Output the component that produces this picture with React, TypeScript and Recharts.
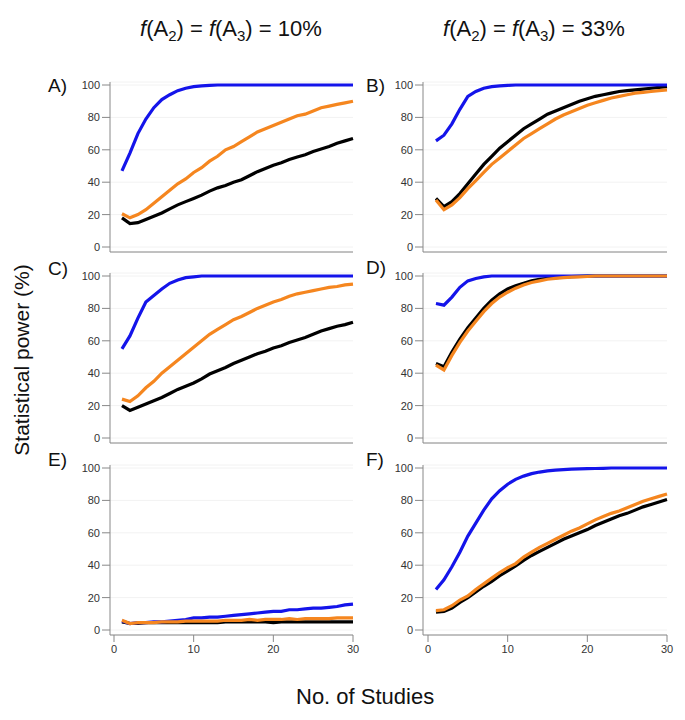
import { LineChart, Line, XAxis, YAxis, CartesianGrid } from 'recharts';

const studies = Array.from({ length: 30 }, (_, i) => i + 1);
const yTicks = [0, 20, 40, 60, 80, 100];
const xTicks = [0, 10, 20, 30];

// A) f = 10%
const aBlue = [47, 58, 70, 79, 86, 91, 94, 96.5, 98, 99, 99.5, 99.8, 100, 100, 100, 100, 100, 100, 100, 100, 100, 100, 100, 100, 100, 100, 100, 100, 100, 100];
const aOrange = [20.5, 18, 20, 23, 27, 31, 35, 39, 42, 46, 49, 53, 56, 60, 62, 65, 68, 71, 73, 75, 77, 79, 81, 82, 84, 86, 87, 88, 89, 90];
const aBlack = [18, 14.5, 15, 17, 19, 21, 23.5, 26, 28, 30, 32, 34.5, 36.5, 38, 40, 41.5, 44, 46.5, 48.5, 50.5, 52, 54, 55.5, 57, 59, 60.5, 62, 64, 65.5, 67];

// B) f = 33%
const bBlue = [65.5, 69, 76, 85, 93, 96, 98, 99, 99.5, 99.8, 100, 100, 100, 100, 100, 100, 100, 100, 100, 100, 100, 100, 100, 100, 100, 100, 100, 100, 100, 100];
const bOrange = [29, 23, 26, 30.5, 36, 41, 46, 51, 55, 59, 63, 67, 70, 73, 76, 79, 81.5, 83.5, 85.5, 87.5, 89, 90.5, 92, 93, 94, 95, 95.5, 96, 96.5, 97];
const bBlack = [30, 25, 28, 33, 39, 45, 51, 56, 61, 65, 69, 73, 76, 79, 82, 84, 86, 88, 90, 91.5, 93, 94, 95, 96, 96.5, 97, 97.5, 98, 98.5, 99];

// C) f = 10%
const cBlue = [55, 63, 74, 84, 88, 92, 95.5, 97.5, 99, 99.5, 100, 100, 100, 100, 100, 100, 100, 100, 100, 100, 100, 100, 100, 100, 100, 100, 100, 100, 100, 100];
const cOrange = [24, 22.5, 26, 31, 35, 40, 44, 48, 52, 56, 60, 64, 67, 70, 73, 75, 77.5, 80, 82, 84, 85.5, 87.5, 89, 90, 91, 92, 93, 93.5, 94.5, 95];
const cBlack = [20, 17, 19, 21, 23, 25, 27.5, 30, 32, 34, 36.5, 39.5, 41.5, 43.5, 46, 48, 50, 52, 53.5, 55.5, 57, 59, 60.5, 62, 64, 66, 67.5, 69, 70, 71.5];

// D) f = 33%
const dBlue = [83, 82, 87, 93, 97, 98.5, 99.5, 100, 100, 100, 100, 100, 100, 100, 100, 100, 100, 100, 100, 100, 100, 100, 100, 100, 100, 100, 100, 100, 100, 100];
const dOrange = [45, 42, 51, 59, 66, 72, 78, 83, 87, 90, 92.5, 94.5, 96, 97, 98, 98.5, 99, 99.3, 99.5, 99.7, 100, 100, 100, 100, 100, 100, 100, 100, 100, 100];
const dBlack = [46, 44, 53, 61, 68, 74, 80, 85, 89, 92, 94, 95.5, 97, 98, 98.5, 99, 99.3, 99.6, 99.8, 100, 100, 100, 100, 100, 100, 100, 100, 100, 100, 100];

// E) f = 10%
const eBlue = [5.5, 4, 4.5, 4.5, 5, 5, 5.5, 6, 6.5, 7.5, 7.5, 8, 8, 8.5, 9, 9.5, 10, 10.5, 11, 11.5, 11.5, 12.5, 12.5, 13, 13.5, 13.5, 14, 14.5, 15.5, 16];
const eOrange = [6, 4, 4.5, 4.5, 4.5, 5, 5, 5, 5.5, 5.5, 5.5, 5.5, 5.5, 6, 6, 6, 6.5, 6, 6.5, 6.5, 6.5, 7, 6.5, 7, 7, 7, 7, 7.5, 7.5, 7.5];
const eBlack = [5, 4, 4, 4.5, 4.5, 4.5, 4.5, 4.5, 4.5, 4.5, 4.5, 4.5, 4.5, 5, 5, 5, 5, 5, 5, 4.5, 5, 5, 5, 5, 5, 5, 5, 5, 5, 5];

// F) f = 33%
const fBlue = [25, 31, 39, 48, 58, 66, 74, 81, 86, 90, 93, 95, 96.5, 97.5, 98.2, 98.7, 99, 99.3, 99.5, 99.6, 99.7, 99.8, 100, 100, 100, 100, 100, 100, 100, 100];
const fOrange = [12, 12.5, 15, 18.5, 21, 25, 28.5, 32, 35.5, 38.5, 41, 45, 48, 51, 53.5, 56, 58.5, 61, 63, 65.5, 68, 70, 72, 73.5, 75.5, 77.5, 79.5, 81, 82.5, 84];
const fBlack = [11, 11.5, 13.5, 17, 20, 23.5, 27, 30, 33.5, 36.5, 39.5, 43, 46, 48.5, 51, 53.5, 56, 58, 60, 62, 64.5, 66.5, 68.5, 70.5, 72, 74, 76, 77.5, 79, 80.5];

const FONT = '"Liberation Sans", Arial, Helvetica, sans-serif';

function build(blue: number[], orange: number[], black: number[]) {
  return studies.map((s, i) => ({ s, blue: blue[i], orange: orange[i], black: black[i] }));
}

interface PanelProps {
  left: number;
  top: number;
  width: number;
  marginLeft: number;
  marginRight: number;
  showX: boolean;
  padLeft: number;
  blue: number[];
  orange: number[];
  black: number[];
}

function Panel({ left, top, width, marginLeft, marginRight, showX, padLeft, blue, orange, black }: PanelProps) {
  const data = build(blue, orange, black);
  return (
    <div style={{ position: 'absolute', left, top, width, height: 210 }}>
      <LineChart width={width} height={210} data={data} margin={{ top: 5, right: marginRight, bottom: 5, left: marginLeft }}>
        <CartesianGrid horizontal vertical={false} stroke="#f2f2f2" />
        <XAxis
          dataKey="s"
          type="number"
          domain={[0, 30]}
          ticks={xTicks}
          padding={{ left: padLeft, right: 0 }}
          height={30}
          tickSize={7}
          tickMargin={3}
          stroke="#888"
          tick={showX ? { fontSize: 11, fill: '#333', fontFamily: FONT } : false}
        />
        <YAxis
          type="number"
          domain={[0, 100]}
          ticks={yTicks}
          width={40}
          padding={{ top: 3, bottom: 5 }}
          tickSize={8}
          tickMargin={2}
          stroke="#888"
          tick={{ fontSize: 11, fill: '#333', fontFamily: FONT }}
        />
        <Line dataKey="black" stroke="#000000" strokeWidth={3.2} dot={false} isAnimationActive={false} />
        <Line dataKey="blue" stroke="#1414ea" strokeWidth={3.2} dot={false} isAnimationActive={false} />
        <Line dataKey="orange" stroke="#f5861f" strokeWidth={3.2} dot={false} isAnimationActive={false} />
      </LineChart>
    </div>
  );
}

const labelStyle: React.CSSProperties = {
  position: 'absolute',
  fontFamily: FONT,
  fontSize: 19,
  color: '#111',
  lineHeight: '20px',
};

function Title({ pct, left }: { pct: string; left: number }) {
  return (
    <div style={{ position: 'absolute', left, top: 16, fontFamily: FONT, fontSize: 22, color: '#111', whiteSpace: 'nowrap' }}>
      <i>f</i>(A<sub style={{ fontSize: 15 }}>2</sub>) = <i>f</i>(A<sub style={{ fontSize: 15 }}>3</sub>) = {pct}
    </div>
  );
}

export default function App() {
  const rows = [82, 273, 465];
  return (
    <div style={{ position: 'absolute', left: 0, top: 0, width: 685, height: 720, background: '#fff', overflow: 'hidden' }}>
      <Title pct="10%" left={140} />
      <Title pct="33%" left={443} />

      <Panel left={0} top={rows[0] - 5} width={360} marginLeft={70} marginRight={7} padLeft={4} showX={false} blue={aBlue} orange={aOrange} black={aBlack} />
      <Panel left={340} top={rows[0] - 5} width={340} marginLeft={43} marginRight={13} padLeft={5} showX={false} blue={bBlue} orange={bOrange} black={bBlack} />
      <Panel left={0} top={rows[1] - 5} width={360} marginLeft={70} marginRight={7} padLeft={4} showX={false} blue={cBlue} orange={cOrange} black={cBlack} />
      <Panel left={340} top={rows[1] - 5} width={340} marginLeft={43} marginRight={13} padLeft={5} showX={false} blue={dBlue} orange={dOrange} black={dBlack} />
      <Panel left={0} top={rows[2] - 5} width={360} marginLeft={70} marginRight={7} padLeft={4} showX blue={eBlue} orange={eOrange} black={eBlack} />
      <Panel left={340} top={rows[2] - 5} width={340} marginLeft={43} marginRight={13} padLeft={5} showX blue={fBlue} orange={fOrange} black={fBlack} />

      <div style={{ ...labelStyle, left: 48, top: 76 }}>A)</div>
      <div style={{ ...labelStyle, left: 366, top: 76 }}>B)</div>
      <div style={{ ...labelStyle, left: 48, top: 259 }}>C)</div>
      <div style={{ ...labelStyle, left: 366, top: 258 }}>D)</div>
      <div style={{ ...labelStyle, left: 48, top: 450 }}>E)</div>
      <div style={{ ...labelStyle, left: 366, top: 450 }}>F)</div>

      <div
        style={{
          position: 'absolute',
          left: 22,
          top: 360,
          transform: 'translate(-50%, -50%) rotate(-90deg)',
          fontFamily: FONT,
          fontSize: 21,
          color: '#111',
          whiteSpace: 'nowrap',
        }}
      >
        Statistical power (%)
      </div>
      <div style={{ position: 'absolute', left: 296, top: 684, fontFamily: FONT, fontSize: 22, color: '#111', whiteSpace: 'nowrap' }}>
        No. of Studies
      </div>
    </div>
  );
}
